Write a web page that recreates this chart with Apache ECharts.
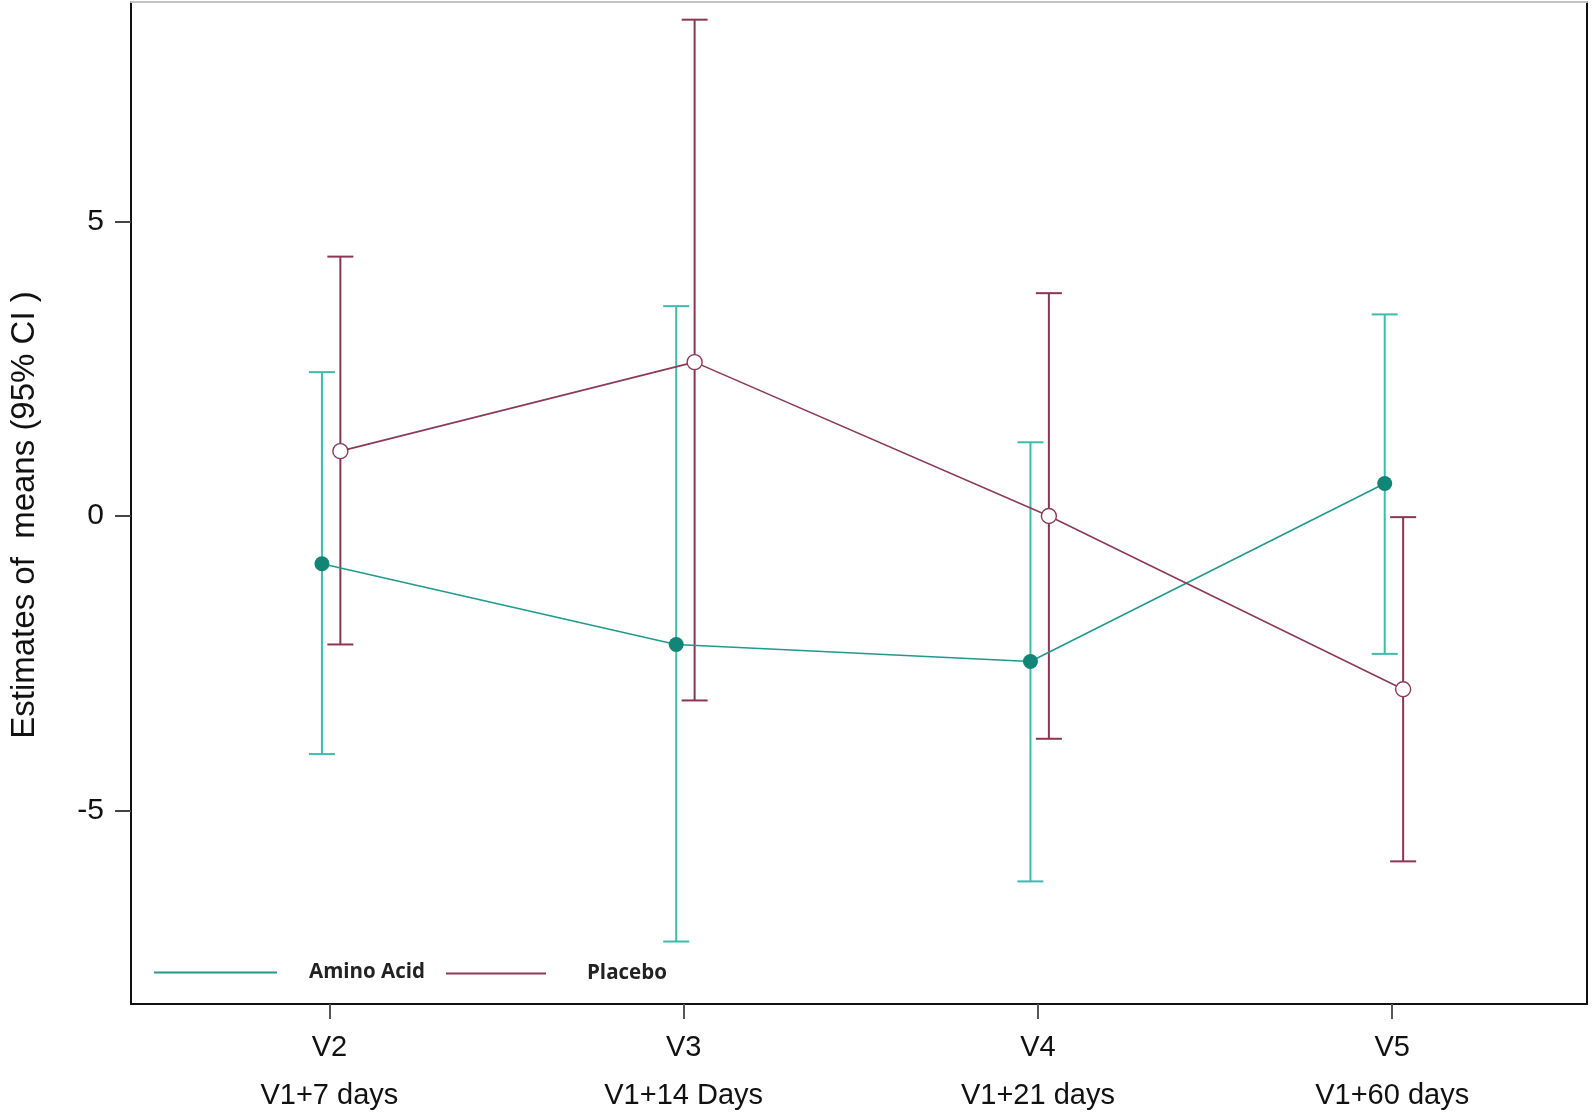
<!DOCTYPE html>
<html>
<head>
<meta charset="utf-8">
<script src="https://cdn.jsdelivr.net/npm/echarts@6/dist/echarts.min.js"></script>
<style>
html,body{margin:0;padding:0;background:#fff;}
#chart{width:1594px;height:1120px;}
</style>
</head>
<body>
<div id="chart"></div>
<script>
// ---- data ----
const categories = ['V2\nV1+7 days', 'V3\nV1+14 Days', 'V4\nV1+21 days', 'V5\nV1+60 days'];
const categoryPositions = [1, 2, 3, 4];
const yTicks = [-5, 0, 5];

const aminoMean = [-0.81, -2.18, -2.47, 0.55];
const aminoLow  = [-4.04, -7.22, -6.20, -2.34];
const aminoHigh = [2.44, 3.56, 1.25, 3.42];

const placeboMean = [1.10, 2.61, 0.00, -2.94];
const placeboLow  = [-2.18, -3.13, -3.78, -5.86];
const placeboHigh = [4.40, 8.42, 3.78, -0.02];

const aminoOffset = -0.021;
const placeboOffset = 0.031;

// ---- styles ----
const tealLine = '#1f9a8c';
const tealMarker = '#128676';
const tealBar = '#3cbcac';
const maroonLine = '#8c3a55';
const maroonBar = '#8e3452';
const axisFont = 'Liberation Sans, Arial, sans-serif';

function errSeries(name, low, high, offset, color) {
  return {
    type: 'custom',
    name: name,
    z: 1,
    silent: true,
    renderItem: function (params, api) {
      const x = api.value(0), lo = api.value(1), hi = api.value(2);
      const pLo = api.coord([x, lo]);
      const pHi = api.coord([x, hi]);
      const w = 13;
      const st = { stroke: color, lineWidth: 2 };
      return {
        type: 'group',
        children: [
          { type: 'line', shape: { x1: pLo[0], y1: pLo[1], x2: pHi[0], y2: pHi[1] }, style: st },
          { type: 'line', shape: { x1: pLo[0] - w, y1: pLo[1], x2: pLo[0] + w, y2: pLo[1] }, style: st },
          { type: 'line', shape: { x1: pHi[0] - w, y1: pHi[1], x2: pHi[0] + w, y2: pHi[1] }, style: st }
        ]
      };
    },
    encode: { x: 0, y: [1, 2] },
    data: low.map((l, i) => [categoryPositions[i] + offset, l, high[i]])
  };
}

const chart = echarts.init(document.getElementById('chart'), null, { renderer: 'canvas' });
chart.setOption({
  animation: false,
  backgroundColor: '#fff',
  grid: { left: 127, right: 7, top: 2, bottom: 112, containLabel: false },
  xAxis: [{
    type: 'value',
    min: 0.44,
    max: 4.55,
    splitLine: { show: false },
    axisLine: { show: true, onZero: false, lineStyle: { color: '#111', width: 2 } },
    axisTick: { show: true, customValues: categoryPositions, length: 15, lineStyle: { color: '#555', width: 2 } },
    axisLabel: {
      customValues: categoryPositions,
      formatter: function (v) { return categories[Math.round(v) - 1] || ''; },
      color: '#111',
      fontFamily: axisFont,
      fontSize: 29,
      lineHeight: 48,
      margin: 20,
      align: 'center'
    }
  }, {
    type: 'value',
    position: 'top',
    min: 0.44,
    max: 4.55,
    splitLine: { show: false },
    axisLine: { show: true, onZero: false, lineStyle: { color: '#c4c4c4', width: 2 } },
    axisTick: { show: false },
    axisLabel: { show: false }
  }],
  yAxis: [{
    type: 'value',
    min: -8.28,
    max: 8.72,
    splitLine: { show: false },
    axisLine: { show: true, onZero: false, lineStyle: { color: '#111', width: 2 } },
    axisTick: { show: true, customValues: yTicks, length: 16, lineStyle: { color: '#444', width: 2 } },
    axisLabel: {
      customValues: yTicks,
      color: '#111',
      fontFamily: axisFont,
      fontSize: 30,
      margin: 27
    },
    name: 'Estimates of  means (95% CI )',
    nameLocation: 'middle',
    nameRotate: 90,
    nameGap: 90,
    nameTextStyle: { color: '#111', fontFamily: axisFont, fontSize: 33, padding: [0, 24, 0, 0] }
  }, {
    type: 'value',
    position: 'right',
    min: -8.28,
    max: 8.72,
    splitLine: { show: false },
    axisLine: { show: true, onZero: false, lineStyle: { color: '#111', width: 2 } },
    axisTick: { show: false },
    axisLabel: { show: false }
  }],
  legend: [{
    data: ['Amino Acid'],
    left: 154,
    top: 962,
    icon: 'rect',
    itemWidth: 123,
    itemHeight: 2,
    padding: 0,
    itemStyle: { color: tealLine, borderWidth: 0 },
    textStyle: { fontFamily: 'Open Sans, sans-serif', fontWeight: 'bold', fontSize: 20.5, color: '#222', padding: [0, 0, 0, 27] }
  }, {
    data: ['Placebo'],
    left: 446,
    top: 963,
    icon: 'rect',
    itemWidth: 100,
    itemHeight: 2,
    padding: 0,
    itemStyle: { color: maroonLine, borderWidth: 0 },
    textStyle: { fontFamily: 'Open Sans, sans-serif', fontWeight: 'bold', fontSize: 20.5, color: '#222', padding: [0, 0, 0, 36] }
  }],
  series: [
    errSeries('Amino Acid CI', aminoLow, aminoHigh, aminoOffset, tealBar),
    errSeries('Placebo CI', placeboLow, placeboHigh, placeboOffset, maroonBar),
    {
      name: 'Amino Acid',
      type: 'line',
      z: 3,
      data: aminoMean.map((m, i) => [categoryPositions[i] + aminoOffset, m]),
      symbol: 'circle',
      symbolSize: 15,
      lineStyle: { color: tealLine, width: 1.6 },
      itemStyle: { color: tealMarker },
      emphasis: { disabled: true }
    },
    {
      name: 'Placebo',
      type: 'line',
      z: 3,
      data: placeboMean.map((m, i) => [categoryPositions[i] + placeboOffset, m]),
      symbol: 'circle',
      symbolSize: 15,
      showAllSymbol: true,
      lineStyle: { color: maroonLine, width: 1.6 },
      itemStyle: { color: '#fff', borderColor: maroonLine, borderWidth: 1.4 },
      emphasis: { disabled: true }
    }
  ]
});
</script>
</body>
</html>
